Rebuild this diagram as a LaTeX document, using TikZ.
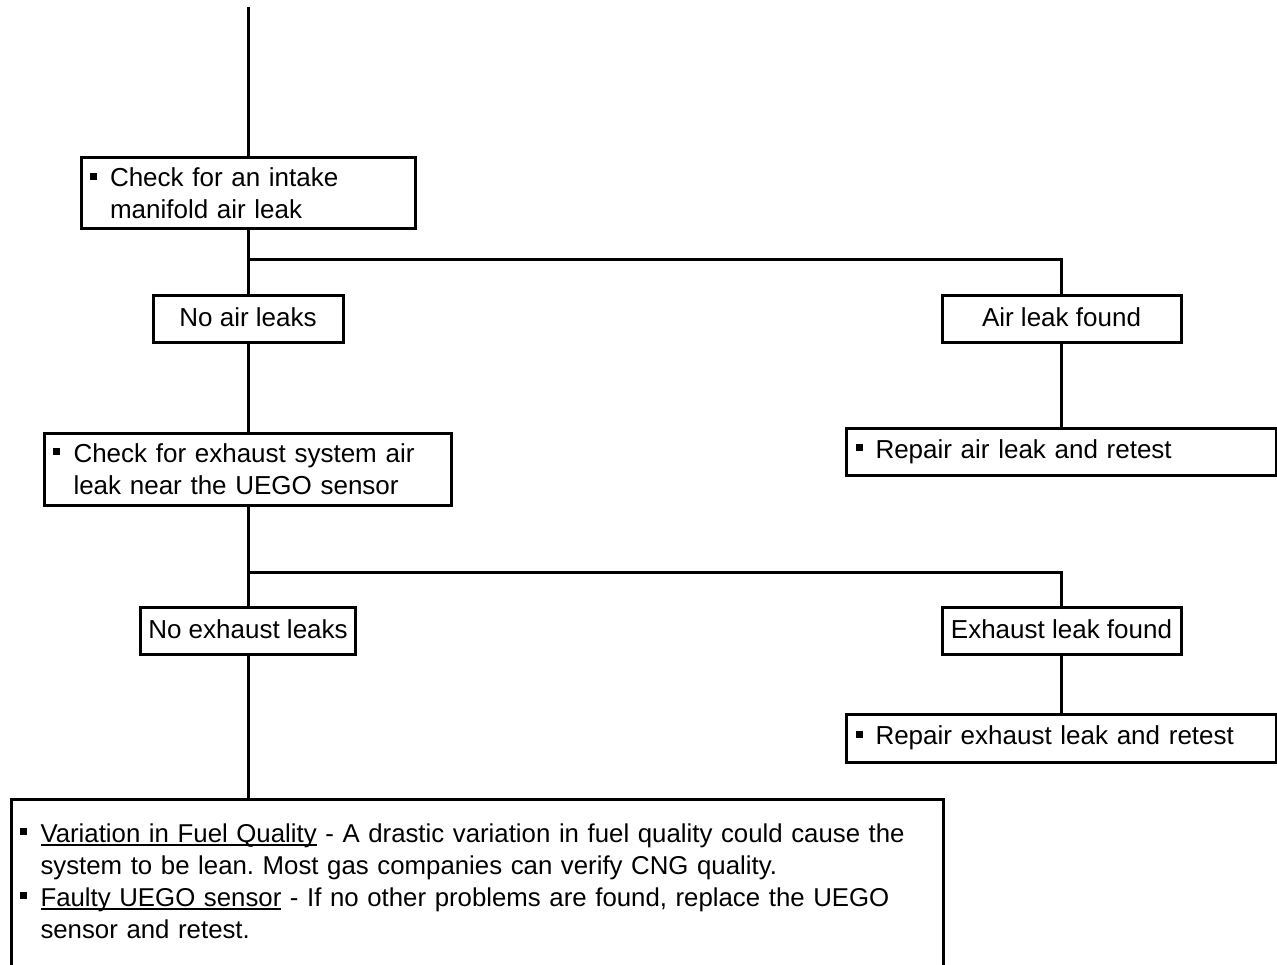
\documentclass[tikz,border=0pt]{standalone}
\usepackage{fontspec}
\setmainfont{Liberation Sans}
\frenchspacing

% square bullet with hanging indent for wrapped lines
\newcommand\sqbullet{\hspace*{9pt}\makebox[20pt][l]{\rule[7pt]{7pt}{7pt}}}
\newcommand\hang{\hspace*{29pt}}
% underline sitting just below the baseline
\newcommand\ulword[1]{\setbox0=\hbox{#1}\rlap{\rule[-3.5pt]{\wd0}{1.6pt}}\box0{}}

\begin{document}
\begin{tikzpicture}[x=1pt,y=-1pt,
  every node/.style={font=\fontsize{26pt}{32pt}\selectfont},
  wire/.style={line width=3pt},
  labelbox/.style={draw, line width=3pt, inner sep=0pt, text height=19pt, text depth=5pt, minimum height=47pt},
  notebox/.style={draw, line width=3pt, inner xsep=0pt, align=left}
]
\useasboundingbox (0,0) rectangle (1277,965);
\clip (0,0) rectangle (1277,965);

% boxes
\node[notebox, text width=334pt, minimum height=71pt] (intake) at (248,193.5)
  {\sqbullet Check for an intake\\\hang manifold air leak};
\node[labelbox, minimum width=190pt] (noair) at (248,319.5) {No air leaks};
\node[labelbox, minimum width=239pt] (airfound) at (1061.5,319.5) {Air leak found};
\node[notebox, text width=430pt, minimum height=47pt] (repairair) at (1061.5,451.5)
  {\sqbullet Repair air leak and retest};
\node[notebox, text width=407pt, minimum height=72pt] (exhcheck) at (248,469)
  {\sqbullet Check for exhaust system air\\\hang leak near the UEGO sensor};
\node[labelbox, minimum width=215pt] (noexh) at (248,631) {No exhaust leaks};
\node[labelbox, minimum width=239pt] (exhfound) at (1061.5,631) {Exhaust leak found};
\node[notebox, text width=430pt, minimum height=48pt] (repairexh) at (1061.5,738)
  {\sqbullet Repair exhaust leak and retest};
\node[notebox, text width=932pt, inner ysep=24pt, anchor=north west,
      font=\fontsize{25.8pt}{32pt}\selectfont] (causes) at (10,798)
  {\sqbullet\ulword{Variation in Fuel Quality} - A drastic variation in fuel quality could cause the\\
   \hang system to be lean. Most gas companies can verify CNG quality.\\
   \sqbullet\ulword{Faulty UEGO sensor} - If no other problems are found, replace the UEGO\\
   \hang sensor and retest.\rule[-40pt]{0pt}{40pt}};

% connectors
\coordinate (start) at (248,7);
\coordinate (split1) at (248,260);
\coordinate (split2) at (248,572);
\draw[wire] (start) -- (intake.north);
\draw[wire] (intake.south) -- (noair.north);
\draw[wire] (split1) -| (airfound.north);
\draw[wire] (airfound.south) -- (repairair.north);
\draw[wire] (noair.south) -- (exhcheck.north);
\draw[wire] (exhcheck.south) -- (noexh.north);
\draw[wire] (split2) -| (exhfound.north);
\draw[wire] (exhfound.south) -- (repairexh.north);
\draw[wire] (noexh.south) -- (noexh.south |- causes.north);
\end{tikzpicture}
\end{document}
